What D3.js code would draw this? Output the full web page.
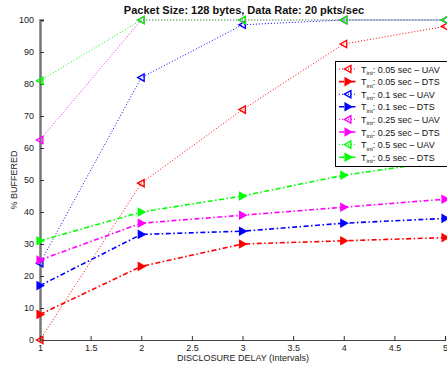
<!DOCTYPE html>
<html>
<head>
<meta charset="utf-8">
<script src="https://cdn.jsdelivr.net/npm/d3@7"></script>
<style>
  body { margin: 0; background: #fff; }
  text { font-family: "Liberation Sans", Arial, sans-serif; }
</style>
</head>
<body>
<svg id="chart" width="447" height="369"></svg>
<script>
// disclosure delay (intervals)
var delays = [1, 2, 3, 4, 5];
var xTicks = [1, 1.5, 2, 2.5, 3, 3.5, 4, 4.5, 5];
var yTicks = [0, 10, 20, 30, 40, 50, 60, 70, 80, 90, 100];

// % buffered
var uav005 = [0, 49, 72, 92.5, 98];
var dts005 = [8, 23, 30, 31, 32];
var uav01  = [24, 82, 98.5, 100, 100];
var dts01  = [17, 33, 34, 36.5, 38];
var uav025 = [62.5, 100, 100, 100, 100];
var dts025 = [25, 36.5, 39, 41.5, 44];
var uav05  = [81, 100, 100, 100, 100];
var dts05  = [31, 40, 45, 51.5, 56];

var series = [
    {name: "0.05 sec \u2013 UAV", vals: uav005, color: "#ff0000", kind: "uav"},
    {name: "0.05 sec \u2013 DTS", vals: dts005, color: "#ff0000", kind: "dts"},
    {name: "0.1 sec \u2013 UAV",  vals: uav01,  color: "#0000ff", kind: "uav"},
    {name: "0.1 sec \u2013 DTS",  vals: dts01,  color: "#0000ff", kind: "dts"},
    {name: "0.25 sec \u2013 UAV", vals: uav025, color: "#ff00ff", kind: "uav"},
    {name: "0.25 sec \u2013 DTS", vals: dts025, color: "#ff00ff", kind: "dts"},
    {name: "0.5 sec \u2013 UAV",  vals: uav05,  color: "#00ff00", kind: "uav"},
    {name: "0.5 sec \u2013 DTS",  vals: dts05,  color: "#00ff00", kind: "dts"}
];

var svg = d3.select("#chart");
var x = d3.scaleLinear().domain([1, 5]).range([40, 445]);
var y = d3.scaleLinear().domain([0, 100]).range([340, 20]);

// triangle marker paths
function triPath(kind) {
    var s = 3.6;
    if (kind == "uav")
        return "M" + (-s) + ",0L" + (s * 0.8) + "," + (-s) + "L" + (s * 0.8) + "," + s + "Z";
    return "M" + s + ",0L" + (-s * 0.8) + "," + (-s) + "L" + (-s * 0.8) + "," + s + "Z";
}
function lineStyle(sel, d) {
    sel.attr("stroke", d.color)
        .attr("fill", "none")
        .attr("stroke-width", d.kind == "uav" ? 1 : 1.6)
        .attr("stroke-dasharray", d.kind == "uav" ? "1,2" : "5,2.5,1.5,2.5");
}
function markerStyle(sel, d) {
    sel.attr("d", triPath(d.kind))
        .attr("stroke", d.color)
        .attr("stroke-width", 1.4)
        .attr("fill", d.kind == "dts" ? d.color : "none");
}

// axes
var yAxis = d3.axisRight(y).tickValues(yTicks).tickSize(4).tickFormat(d3.format("d"));
var gy = svg.append("g").attr("transform", "translate(40,0)").call(yAxis);
gy.select(".domain").attr("stroke", "#777").attr("stroke-width", 2.5);
gy.selectAll(".tick line").attr("stroke", "#333");
gy.selectAll(".tick text").attr("x", -6).attr("text-anchor", "end")
    .attr("font-size", 9).attr("fill", "#222");

var xAxis = d3.axisTop(x).tickValues(xTicks).tickSize(4).tickFormat(d3.format("~g"));
var gx = svg.append("g").attr("transform", "translate(0,340)").call(xAxis);
gx.select(".domain").attr("stroke", "#444").attr("stroke-width", 1.2);
gx.selectAll(".tick line").attr("stroke", "#333");
gx.selectAll(".tick text").attr("y", 11).attr("dy", 0)
    .attr("font-size", 9).attr("fill", "#222");

// lines and markers
var line = d3.line().x(function(d, i) { return x(delays[i]); }).y(function(d) { return y(d); });

var groups = svg.selectAll(".series").data(series).enter().append("g").attr("class", "series");
groups.each(function(d) {
    var g = d3.select(this);
    g.append("path").attr("d", line(d.vals)).call(lineStyle, d);
    g.selectAll(".mk").data(d.vals).enter().append("path")
        .attr("class", "mk")
        .attr("transform", function(v, i) { return "translate(" + x(delays[i]) + "," + y(v) + ")"; })
        .call(markerStyle, d);
});

// titles
svg.append("text").attr("x", 244).attr("y", 14).attr("text-anchor", "middle")
    .attr("font-size", 11).attr("font-weight", "bold").attr("fill", "#111")
    .text("Packet Size: 128 bytes, Data Rate: 20 pkts/sec");
svg.append("text").attr("x", 243).attr("y", 361).attr("text-anchor", "middle")
    .attr("font-size", 9).attr("fill", "#222")
    .text("DISCLOSURE DELAY (Intervals)");
svg.append("text").attr("transform", "translate(17,180) rotate(-90)")
    .attr("text-anchor", "middle").attr("font-size", 9).attr("fill", "#222")
    .text("% BUFFERED");

// legend
var legend = svg.append("g").attr("transform", "translate(335,61)");
legend.append("rect").attr("x", 0.5).attr("y", 0.5).attr("width", 120).attr("height", 105)
    .attr("fill", "#fff").attr("stroke", "#000").attr("stroke-width", 1);
var rows = legend.selectAll(".row").data(series).enter().append("g")
    .attr("transform", function(d, i) { return "translate(0," + (8 + i * 12.6) + ")"; });
rows.each(function(d) {
    var r = d3.select(this);
    r.append("path").attr("d", "M4,0H22").call(lineStyle, d);
    r.append("path").attr("transform", "translate(13,0)").call(markerStyle, d);
    var t = r.append("text").attr("x", 26).attr("y", 3.5).attr("font-size", 9).attr("fill", "#111");
    t.append("tspan").text("T");
    t.append("tspan").attr("font-size", 6).attr("dy", 2.5).text("int");
    t.append("tspan").attr("dy", -2.5).text(": " + d.name);
});
</script>
</body>
</html>
